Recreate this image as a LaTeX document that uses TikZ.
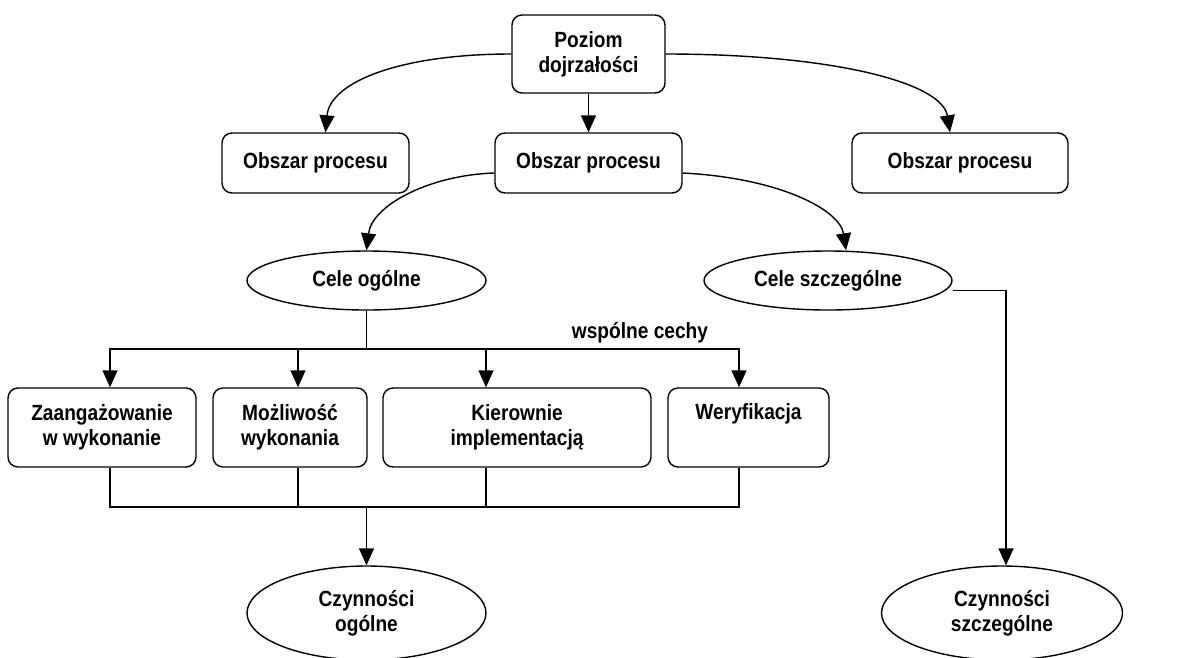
\documentclass[tikz,border=0pt]{standalone}
\usepackage{fontspec}
\setmainfont{Liberation Sans}[FakeStretch=0.87]
\usetikzlibrary{shapes.geometric,arrows.meta}

\begin{document}
\begin{tikzpicture}[x=1pt,y=-1pt,
	font=\fontsize{22}{25}\selectfont\bfseries,
	box/.style={draw,rounded corners=10pt,line width=1.4pt,align=center,inner sep=0pt},
	oval/.style={draw,ellipse,line width=1.4pt,align=center,inner sep=0pt},
	arr/.style={line width=1.4pt,-{Triangle[width=15pt,length=17pt]}},
	ln/.style={line width=1.4pt}]
		
		\useasboundingbox (0,0) rectangle (1177,657);
		\clip (0,0) rectangle (1177,657);
		
		\node[box,minimum width=153pt,minimum height=78pt] (poziom) at (588.5,54) {Poziom\\dojrzałości};
		
		\node[box,minimum width=187pt,minimum height=60pt] (obsL) at (315.5,163) {Obszar procesu};
		\node[box,minimum width=187pt,minimum height=60pt] (obsM) at (588.5,163) {Obszar procesu};
		\node[box,minimum width=216pt,minimum height=60pt] (obsR) at (960,163) {Obszar procesu};
		
		\node[oval,minimum width=239pt,minimum height=59pt] (celeO) at (366.5,280.5) {Cele ogólne};
		\node[oval,minimum width=248pt,minimum height=59pt] (celeS) at (828,280.5) {Cele szczególne};
		
		\node at (640,333) {wspólne cechy};
		
		\node[box,minimum width=188pt,minimum height=79pt] (zaang) at (102,427.5) {Zaangażowanie\\w wykonanie};
		\node[box,minimum width=154pt,minimum height=79pt] (mozl) at (290,427.5) {Możliwość\\wykonania};
		\node[box,minimum width=268pt,minimum height=79pt] (kier) at (517,427.5) {Kierownie\\implementacją};
		\node[box,minimum width=161pt,minimum height=79pt] (wer) at (748.5,427.5) {Weryfikacja\\\strut};
		
		\node[oval,minimum width=239pt,minimum height=94pt] (czynO) at (366.5,613) {Czynności\\ogólne};
		\node[oval,minimum width=241pt,minimum height=94pt] (czynS) at (1002,613) {Czynności\\szczególne};
		
		\coordinate (g) at (366.5,349);
		\coordinate (d) at (366.5,507);
		
		\draw [arr] (poziom.west) .. controls (400,54) and (330,82) .. ([xshift=10pt]obsL.north);
		\draw [arr] (poziom) -- (obsM);
		\draw [arr] (poziom.east) .. controls (830,54) and (942,82) .. ([xshift=-10pt]obsR.north);
		
		\draw [arr] ([yshift=-10pt]obsM.west) .. controls (430,175) and (372,205) .. (celeO.north);
		\draw [arr] ([yshift=-10pt]obsM.east) .. controls (780,178) and (840,210) .. ([xshift=18pt]celeS.north);
		\draw [arr] ([yshift=-10pt]celeS.east) -| ([xshift=4pt]czynS.north);
		
		\draw [ln] (celeO) -- (g);
		\draw [arr] (g) -| ([xshift=8pt]zaang.north);
		\draw [arr] (g) -| ([xshift=8pt]mozl.north);
		\draw [arr] (g) -| ([xshift=-31pt]kier.north);
		\draw [arr] (g) -| ([xshift=-9.5pt]wer.north);
		
		\draw [ln] ([xshift=8pt]zaang.south) |- (d);
		\draw [ln] ([xshift=8pt]mozl.south) |- (d);
		\draw [ln] ([xshift=-31pt]kier.south) |- (d);
		\draw [ln] ([xshift=-9.5pt]wer.south) |- (d);
		\draw [arr] (d) -- (czynO);
	
\end{tikzpicture}
\end{document}
